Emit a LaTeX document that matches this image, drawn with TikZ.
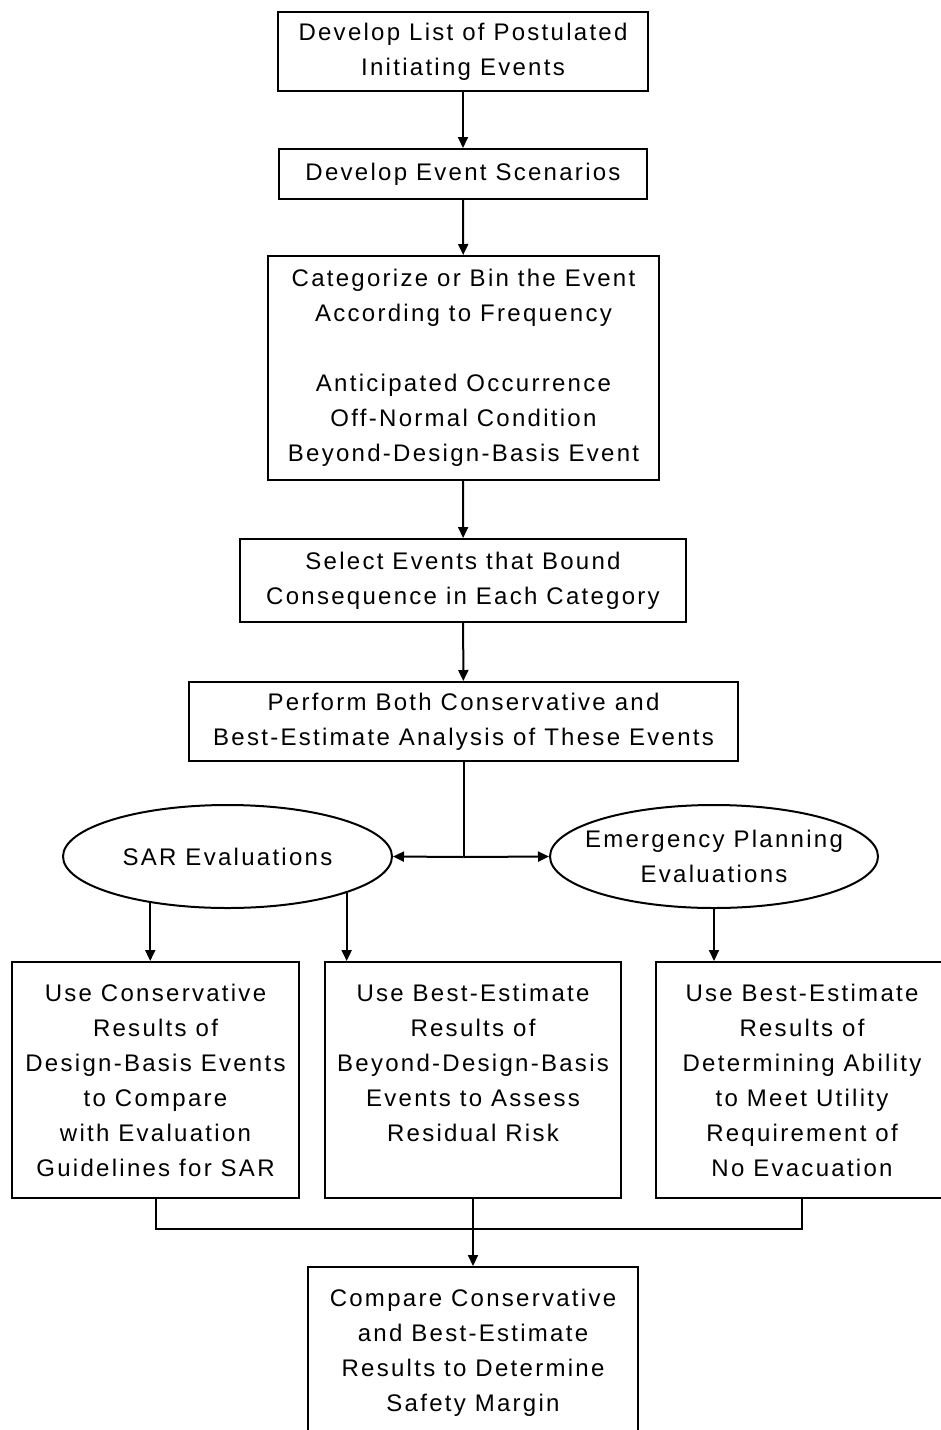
\documentclass[tikz,border=0pt]{standalone}
\usepackage{fontspec}
\setmainfont{Liberation Sans}[LetterSpace=9.5]
\usetikzlibrary{arrows.meta,calc,shapes.geometric}
\begin{document}
\begin{tikzpicture}[x=1pt,y=-1pt,
  font=\fontsize{24}{35}\selectfont,
  box/.style={draw, line width=2pt, rectangle, inner sep=0pt, align=center},
  oval/.style={draw, line width=2pt, ellipse, inner sep=0pt, align=center},
  conn/.style={line width=2pt},
  arr/.style={line width=2pt, -{Triangle[length=11pt,width=10pt]}},
]
\useasboundingbox (0,0) rectangle (941,1430);
\fill[white] (0,0) rectangle (941,1430);
\clip (0,0) rectangle (941,1430);

\node[box, minimum width=370pt, minimum height=79pt] (b1) at (463,51.5)
  {Develop List of Postulated\\Initiating Events};
\node[box, minimum width=368pt, minimum height=50pt] (b2) at (463,174)
  {Develop Event Scenarios};
\node[box, minimum width=391pt, minimum height=224pt] (b3) at (463.5,368)
  {Categorize or Bin the Event\\According to Frequency\\[35pt]Anticipated Occurrence\\Off-Normal Condition\\Beyond-Design-Basis Event};
\node[box, minimum width=446pt, minimum height=83pt] (b4) at (463,580.5)
  {Select Events that Bound\\Consequence in Each Category};
\node[box, minimum width=549pt, minimum height=79pt] (b5) at (463.5,721.5)
  {Perform Both Conservative and\\Best-Estimate Analysis of These Events};

\node[oval, minimum width=329pt, minimum height=103pt] (sar) at (227.5,856.5)
  {\makebox[0pt]{SAR Evaluations}};
\node[oval, minimum width=328pt, minimum height=103pt] (emg) at (714,856.5)
  {\makebox[0pt]{Emergency Planning}\\\makebox[0pt]{Evaluations}};

\node[box, minimum width=287pt, minimum height=236pt] (b6) at (155.5,1080)
  {Use Conservative\\Results of\\Design-Basis Events\\to Compare\\with Evaluation\\Guidelines for SAR};
\node[box, minimum width=296pt, minimum height=236pt] (b7) at (473,1080)
  {Use Best-Estimate\\Results of\\Beyond-Design-Basis\\Events to Assess\\Residual Risk\\\mbox{}};
\node[box, minimum width=292pt, minimum height=236pt] (b8) at (802,1080)
  {Use Best-Estimate\\Results of\\Determining Ability\\to Meet Utility\\Requirement of\\No Evacuation};

\node[box, minimum width=330pt, minimum height=172pt] (fin) at (473,1353)
  {Compare Conservative\\and Best-Estimate\\Results to Determine\\Safety Margin};

% main chain
\draw[arr] (b1) -- (b2);
\draw[arr] (b2) -- (b3);
\draw[arr] (b3) -- (b4);
\draw[arr] (b4) -- (b5);

% split to the two evaluations
\coordinate (j1) at ($(b5.south)+(0,95)$);
\draw[conn] (b5.south) -- (j1);
\draw[arr] (j1) -- (sar.east);
\draw[arr] (j1) -- (emg.west);

% evaluations to result boxes
\draw[arr] (sar.211.2) -- (sar.211.2 |- b6.north);
\draw[arr] (sar.-17.6) -- (sar.-17.6 |- b7.north);
\draw[arr] (emg.south) -- (emg.south |- b8.north);

% merge to final box
\coordinate (j2) at ($(b7.south)+(0,30)$);
\draw[conn] (b6.south) |- (j2) -| (b8.south);
\draw[arr] (b7.south) -- (fin.north);
\end{tikzpicture}
\end{document}
